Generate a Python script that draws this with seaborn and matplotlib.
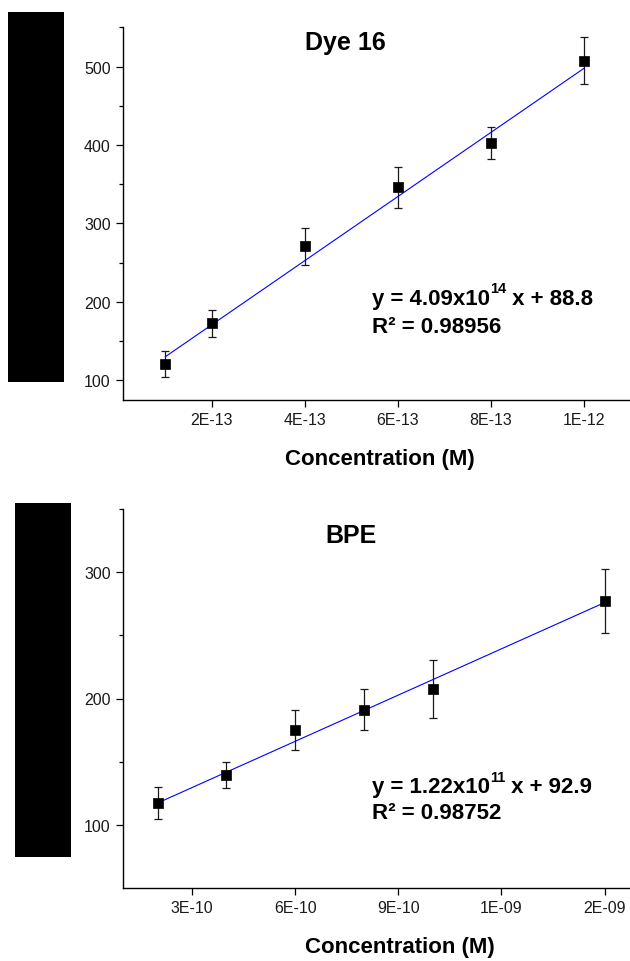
import numpy as np
import pandas as pd
import matplotlib
matplotlib.use("Agg")
import matplotlib.pyplot as plt
from matplotlib.patches import Rectangle
import seaborn as sns

# ---------------- data ----------------
dye_conc = [1e-13, 2e-13, 4e-13, 6e-13, 8e-13, 1e-12]
dye_int = [120.5, 172.5, 270.5, 346.0, 402.5, 507.5]
dye_err = [17.0, 17.0, 23.5, 26.0, 20.5, 30.0]
dye_slope, dye_icpt = 4.09e14, 88.8
dye_ticks = [2e-13, 4e-13, 6e-13, 8e-13, 1e-12]
dye_tick_labels = ["2E-13", "4E-13", "6E-13", "8E-13", "1E-12"]
dye_yticks = [100, 200, 300, 400, 500]

bpe_conc = [2e-10, 4e-10, 6e-10, 8e-10, 1e-9, 1.5e-9]
bpe_int = [117.4, 139.3, 175.2, 191.1, 207.6, 277.3]
bpe_err = [12.6, 10.5, 15.7, 16.2, 22.8, 25.6]
bpe_slope, bpe_icpt = 1.22e11, 92.9
bpe_ticks = [3e-10, 6e-10, 9e-10, 1.2e-9, 1.5e-9]
bpe_tick_labels = ["3E-10", "6E-10", "9E-10", "1E-09", "2E-09"]
bpe_yticks = [100, 200, 300]

# ---------------- style ----------------
sns.set_theme(style="ticks")
plt.rcParams["font.family"] = ["Liberation Sans", "DejaVu Sans"]
plt.rcParams["text.color"] = "black"
plt.rcParams["axes.labelcolor"] = "black"
plt.rcParams["xtick.color"] = "black"
plt.rcParams["ytick.color"] = "black"

W, H = 630, 962
fig = plt.figure(figsize=(W / 100, H / 100), dpi=100)
fig.patch.set_facecolor("white")


def px_axes(l, t, r, b):
    return fig.add_axes([l / W, 1 - b / H, (r - l) / W, (b - t) / H])


def style_axes(ax, xlim, ylim, xticks, xlabels, yticks, yminor):
    ax.set_facecolor("white")
    ax.set_xlim(*xlim)
    ax.set_ylim(*ylim)
    for s in ["top", "right"]:
        ax.spines[s].set_visible(False)
    for s in ["left", "bottom"]:
        ax.spines[s].set_linewidth(1.0)
        ax.spines[s].set_color("black")
    ax.set_xticks(xticks)
    ax.set_xticklabels(xlabels)
    ax.set_yticks(yticks)
    ax.set_yticks(yminor, minor=True)
    ax.tick_params(axis="both", which="major", direction="out", length=5,
                   width=0.9, color="black", labelsize=11.5, pad=4,
                   labelcolor="#1a1a1a")
    ax.tick_params(axis="y", which="minor", direction="out", length=3,
                   width=0.9, color="black")
    ax.grid(False)
    ax.set_xlabel("Concentration (M)", fontsize=16, fontweight="bold",
                  labelpad=15, color="black")
    ax.set_ylabel("")


def draw_panel(ax, conc, inten, err, slope, icpt):
    df = pd.DataFrame({"conc": conc, "inten": inten})
    ax.errorbar(conc, inten, yerr=err, fmt="none", ecolor="#1a1a1a",
                elinewidth=0.9, capsize=3, capthick=0.9, zorder=2)
    fit_x = [conc[0], conc[-1]]
    fit = pd.DataFrame({"conc": fit_x,
                        "fit": [slope * fit_x[0] + icpt, slope * fit_x[1] + icpt]})
    sns.lineplot(data=fit, x="conc", y="fit", ax=ax, color="#0000ff",
                 linewidth=0.8, zorder=3)
    sns.scatterplot(data=df, x="conc", y="inten", ax=ax, marker="s", s=44,
                    color="black", edgecolor="black", linewidth=0.5, zorder=4)


# top panel
ax1 = px_axes(123.3, 28.3, 636.7, 400.7)
draw_panel(ax1, dye_conc, dye_int, dye_err, dye_slope, dye_icpt)
style_axes(ax1, (1e-14, 1.113e-12), (75, 550), dye_ticks, dye_tick_labels,
           dye_yticks, [150, 250, 350, 450, 550])

# bottom panel
ax2 = px_axes(123.3, 510, 676.7, 889)
draw_panel(ax2, bpe_conc, bpe_int, bpe_err, bpe_slope, bpe_icpt)
style_axes(ax2, (1e-10, 1.71e-9), (50, 350), bpe_ticks, bpe_tick_labels,
           bpe_yticks, [150, 250, 350])


def ftext(x, y, s, **kw):
    return fig.text(x / W, 1 - y / H, s, **kw)


renderer = fig.canvas.get_renderer()


def equation(x, y, base, sup, tail):
    t1 = ftext(x, y, base, fontsize=16, fontweight="bold", ha="left", va="baseline")
    x2 = t1.get_window_extent(renderer).x1 + 0.5
    t2 = fig.text(x2 / W, 1 - (y - 11.5) / H, sup, fontsize=10.5,
                  fontweight="bold", ha="left", va="baseline")
    x3 = t2.get_window_extent(renderer).x1
    fig.text(x3 / W, 1 - y / H, tail, fontsize=16, fontweight="bold",
             ha="left", va="baseline")


ftext(345, 50, "Dye 16", fontsize=18, fontweight="bold", ha="center", va="baseline")
ftext(350.6, 543.3, "BPE", fontsize=18, fontweight="bold", ha="center", va="baseline")

equation(371.5, 305, "y = 4.09x10", "14", " x + 88.8")
ftext(371.5, 333.3, "R² = 0.98956", fontsize=16, fontweight="bold",
      ha="left", va="baseline")
equation(371.5, 793.3, "y = 1.22x10", "11", " x + 92.9")
ftext(371.5, 819.5, "R² = 0.98752", fontsize=16, fontweight="bold",
      ha="left", va="baseline")

# black redaction blocks
fig.patches.append(Rectangle((8 / W, 1 - 382.7 / H), 56 / W, 369.4 / H,
                             transform=fig.transFigure, facecolor="black",
                             edgecolor="none", zorder=10))
fig.patches.append(Rectangle((15 / W, 1 - 857.7 / H), 56 / W, 353.7 / H,
                             transform=fig.transFigure, facecolor="black",
                             edgecolor="none", zorder=10))

fig.savefig("out.png", dpi=100)
